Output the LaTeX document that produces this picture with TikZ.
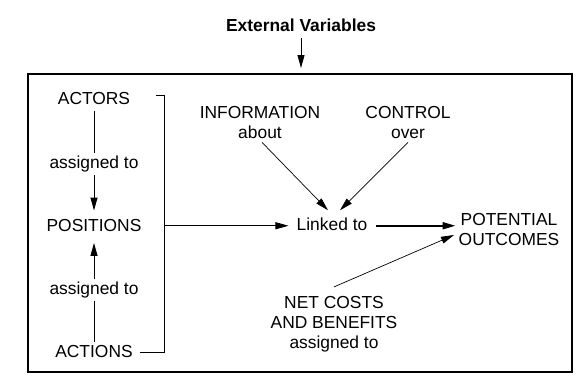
\documentclass[tikz,border=0pt]{standalone}
\usepackage{fontspec}
\setmainfont{Liberation Sans}
\usetikzlibrary{arrows.meta}
\begin{document}
\begin{tikzpicture}[x=1pt,y=-1pt,
  lbl/.style={font=\fontsize{17.4}{20}\selectfont, inner sep=3pt, align=center},
  one/.style={lbl, text height=12.5pt, text depth=3.5pt},
  arr/.style={-{Triangle[length=13pt,width=7pt]}},
  lnk/.style={line width=0.9pt},
  fine/.style={line width=0.7pt},
  frame/.style={line width=1.3pt}]
\useasboundingbox (0,0) rectangle (587,380);
\draw[frame] (28,74) rectangle (572,372);
% nodes
\node[one, font=\fontsize{17.4}{20}\selectfont\bfseries] (ext) at (301,26.75) {External Variables};
\coordinate (extin) at (301,68);
\node[one] (actors) at (94,99.75) {ACTORS};
\node[one] (asg1) at (94,163.75) {assigned to};
\node[one, inner ysep=8pt] (positions) at (94,226.75) {POSITIONS};
\node[one] (asg2) at (94,289.75) {assigned to};
\node[one, inner xsep=7pt] (actions) at (94,352.75) {ACTIONS};
\node[lbl] (info) at (260,123) {INFORMATION\\about};
\node[lbl] (control) at (408,123) {CONTROL\\over};
\node[one, inner xsep=8pt] (linked) at (332,225.75) {Linked to};
\node[lbl] (outcomes) at (509,230) {POTENTIAL\\OUTCOMES};
\node[lbl] (net) at (334,324) {NET COSTS\\AND BENEFITS\\assigned to};
\coordinate (brt) at (164,95);
\coordinate (brb) at (164,352.75);
% connectors
\draw[arr, lnk] (ext) -- (extin);
\draw[lnk] (actors) -- (asg1);
\draw[arr, lnk] (asg1) -- (positions);
\draw[arr, lnk] (asg2) -- (positions);
\draw[lnk] (actions) -- (asg2);
\draw[lnk] ([xshift=-8pt]brt) -- (brt) -- (brb) -- (actions.east);
\draw[arr, lnk] (brt |- linked) -- (linked.west);
\draw[arr, line width=2pt] (linked.east) -- (linked -| outcomes.west);
\draw[arr, fine] ([xshift=2pt]info.south) -- ([shift={(-4,-15.5)}]linked.center);
\draw[arr, fine] (control.south) -- ([shift={(8,-15.5)}]linked.center);
\draw[arr, fine] ([shift={(0,-6)}]net.north) -- ([shift={(-55,5)}]outcomes.center);
\end{tikzpicture}
\end{document}
